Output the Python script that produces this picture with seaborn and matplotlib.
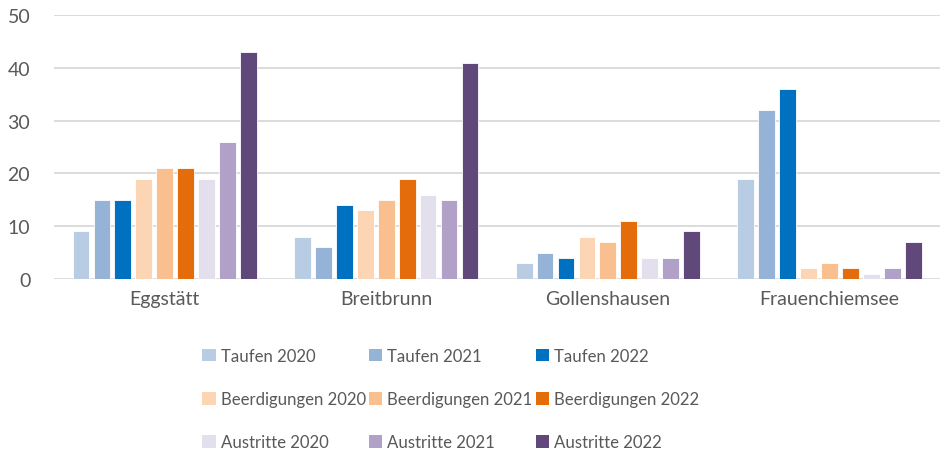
import pandas as pd
import seaborn as sns
import matplotlib.pyplot as plt

# === data ===
orte = ["Eggstätt", "Breitbrunn", "Gollenshausen", "Frauenchiemsee"]
serien = [
    "Taufen 2020", "Taufen 2021", "Taufen 2022",
    "Beerdigungen 2020", "Beerdigungen 2021", "Beerdigungen 2022",
    "Austritte 2020", "Austritte 2021", "Austritte 2022",
]
werte = {
    "Eggstätt":       [9, 15, 15, 19, 21, 21, 19, 26, 43],
    "Breitbrunn":     [8, 6, 14, 13, 15, 19, 16, 15, 41],
    "Gollenshausen":  [3, 5, 4, 8, 7, 11, 4, 4, 9],
    "Frauenchiemsee": [19, 32, 36, 2, 3, 2, 1, 2, 7],
}
farben = [
    "#B8CCE4", "#95B3D7", "#0070C0",
    "#FCD5B4", "#FABF8F", "#E46C0A",
    "#E4DFEC", "#B1A0C7", "#60497A",
]

rows = []
for ort in orte:
    for s, v in zip(serien, werte[ort]):
        rows.append({"Ort": ort, "Serie": s, "Anzahl": v})
df = pd.DataFrame(rows)

# === plot ===
sns.set_style("white")
plt.rcParams["font.family"] = ["Lato", "DejaVu Sans"]
txt = "#595959"

fig = plt.figure(figsize=(9.45, 4.52), dpi=100)
ax = fig.add_axes([0.057, 0.3805, 0.938, 0.584])

sns.barplot(
    data=df, x="Ort", y="Anzahl", hue="Serie",
    order=orte, hue_order=serien, palette=farben, saturation=1,
    width=0.85, gap=0.2, edgecolor="white", linewidth=0.6,
    legend=False, ax=ax, zorder=3,
)

ax.set_ylim(0, 50)
ax.set_yticks(range(0, 51, 10))
ax.yaxis.grid(True, color="#D9D9D9", linewidth=1.3, zorder=0)
ax.set_axisbelow(True)
for sp in ax.spines.values():
    sp.set_visible(False)
ax.tick_params(axis="both", length=0)
ax.tick_params(axis="y", labelsize=14, labelcolor=txt, pad=17)
ax.tick_params(axis="x", labelsize=14, labelcolor=txt, pad=8)
ax.set_xlabel("")
ax.set_ylabel("")

# legend laid out row by row (3 per row)
from matplotlib.patches import Patch
handles = [Patch(facecolor=c, edgecolor="none", label=s) for s, c in zip(serien, farben)]
order = [0, 3, 6, 1, 4, 7, 2, 5, 8]
leg = fig.legend(
    handles=[handles[i] for i in order],
    ncol=3, loc="center", bbox_to_anchor=(0.477, 0.115),
    frameon=False, fontsize=12.1, labelcolor=txt,
    handlelength=0.8, handleheight=0.8, handletextpad=0.3,
    columnspacing=0.18, labelspacing=1.62,
)

fig.savefig("out.png", dpi=100)
